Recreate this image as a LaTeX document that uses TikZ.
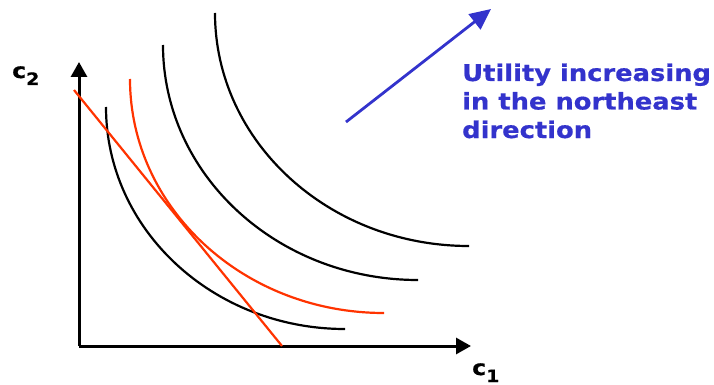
\documentclass[tikz,border=0pt]{standalone}
\usepackage{fontspec}
\setmainfont{DejaVu Sans}
\newfontfamily\labelfont[FakeStretch=1.12,FakeBold=0.6]{DejaVu Sans Bold}
\usetikzlibrary{arrows.meta}
\definecolor{curvered}{RGB}{255,51,0}
\definecolor{textblue}{RGB}{51,51,204}
\tikzset{
  axis/.style={line width=3pt, -{Triangle[length=15pt,width=16pt]}},
  icurve/.style={line width=2.2pt, black},
  rcurve/.style={line width=2.2pt, curvered},
  bluearrow/.style={line width=2.8pt, textblue, -{Triangle[length=21pt,width=19pt]}},
  bluetext/.style={text=textblue, font=\labelfont\fontsize{23}{26}\selectfont, anchor=base west, inner sep=0pt},
  axlabel/.style={font=\labelfont\fontsize{21}{21}\selectfont, anchor=base west, inner sep=0pt}
}
\begin{document}
\begin{tikzpicture}[x=1pt,y=-1pt]
\useasboundingbox (0,0) rectangle (714,385);
% axes
\coordinate (O) at (79,346);
\coordinate (ytop) at (79,62);
\coordinate (xend) at (471,346);
\draw[axis] (O) -- (ytop);
\draw[axis] (O) -- (xend);
\node[axlabel] (c2) at (12,78) {c\raisebox{-7pt}{\fontsize{17}{17}\selectfont 2}};
\node[axlabel] (c1) at (472,375) {c\raisebox{-7pt}{\fontsize{17}{17}\selectfont 1}};
% indifference curves (quarter ellipses)
\coordinate (a0) at (106,107); \coordinate (a1) at (345,329);
\coordinate (r0) at (130,79);  \coordinate (r1) at (384,313);
\coordinate (b0) at (163,45);  \coordinate (b1) at (418,280);
\coordinate (d0) at (215,13);  \coordinate (d1) at (469,246);
\draw[icurve] (a0) .. controls (106,229.6) and (213,329) .. (a1);
\draw[rcurve] (r0) .. controls (130,208.2) and (243.7,313) .. (r1);
\draw[icurve] (b0) .. controls (163,174.8) and (277.2,280) .. (b1);
\draw[icurve] (d0) .. controls (215,141.7) and (328.7,246) .. (d1);
% budget line
\coordinate (l0) at (74,90);
\coordinate (l1) at (282,346);
\draw[rcurve] (l0) -- (l1);
% blue arrow and text
\coordinate (u0) at (346,122);
\coordinate (u1) at (491,9);
\draw[bluearrow] (u0) -- (u1);
\node[bluetext] (t1) at (462,81) {Utility increasing};
\node[bluetext] (t2) at (462,109.5) {in the northeast};
\node[bluetext] (t3) at (462,138) {direction};
\end{tikzpicture}
\end{document}
